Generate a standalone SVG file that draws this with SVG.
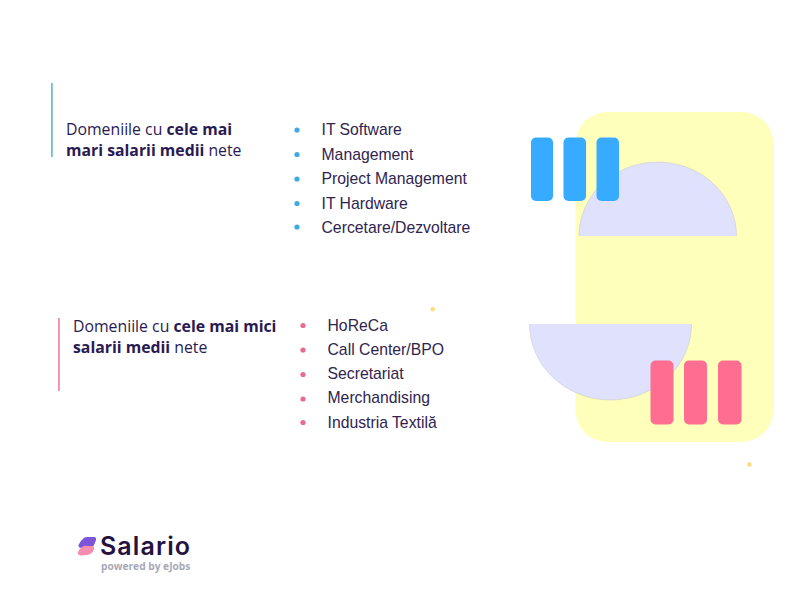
<svg xmlns="http://www.w3.org/2000/svg" width="800" height="598" viewBox="0 0 800 598">
<style>
.h{font-family:"Open Sans","Noto Sans",sans-serif;font-size:15.8px;fill:#2a1a52}
.h tspan{font-weight:700}
.l{font-family:"Liberation Sans",Arial,sans-serif;font-size:15.75px;fill:#2f2450}
.bb{fill:#3fa9e6}
.pb{fill:#ec6a8e}
.blue{fill:#36abff}
.pink{fill:#ff6e91}
.semi{fill:#dfe1fd}
.arc{fill:none;stroke:#c4c4c8;stroke-width:.5}
.dot{fill:#fddc7a}
</style>
<rect width="800" height="598" fill="#fff"/>
<g id="backdrop"><rect x="575.500" y="112" width="198" height="330" rx="32" fill="#feffbb"/></g>
<g id="semi-top"><path class="semi" d="M579 236A78.700 74 0 0 1 736.500 236Z"/><path class="arc" d="M579 236A78.700 74 0 0 1 736.500 236"/></g>
<g id="semi-bottom"><path class="semi" d="M529.500 324A81 76 0 0 0 691.500 324Z"/><path class="arc" d="M529.500 324A81 76 0 0 0 691.500 324"/></g>
<g id="bars-blue">
<rect class="blue" x="531" y="137.500" width="22" height="63.500" rx="5"/>
<rect class="blue" x="563.500" y="137.500" width="22.500" height="63.500" rx="5"/>
<rect class="blue" x="596.500" y="137.500" width="22.500" height="63.500" rx="5"/>
</g>
<g id="bars-pink">
<rect class="pink" x="650.500" y="360.500" width="23" height="64" rx="5"/>
<rect class="pink" x="684" y="360.500" width="23" height="64" rx="5"/>
<rect class="pink" x="718" y="360.500" width="23.500" height="64" rx="5"/>
</g>
<g id="dots"><circle class="dot" cx="432.700" cy="309.300" r="2.200"/><circle class="dot" cx="749.500" cy="464.500" r="2.200"/></g>
<g id="top-heading">
<rect x="51" y="83" width="1.800" height="74" fill="#6dbfd6"/>
<text class="h" x="66" y="135">Domeniile cu <tspan>cele mai</tspan></text>
<text class="h" x="66" y="156"><tspan>mari salarii medii</tspan> nete</text>
</g>
<g id="top-list">
<circle class="bb" cx="297" cy="130" r="2.600"/><text class="l" x="321.500" y="135">IT Software</text>
<circle class="bb" cx="297" cy="154.500" r="2.600"/><text class="l" x="321.500" y="160">Management</text>
<circle class="bb" cx="297" cy="179" r="2.600"/><text class="l" x="321.500" y="184">Project Management</text>
<circle class="bb" cx="297" cy="203.500" r="2.600"/><text class="l" x="321.500" y="208.500">IT Hardware</text>
<circle class="bb" cx="297" cy="227" r="2.600"/><text class="l" x="321.500" y="232.500">Cercetare/Dezvoltare</text>
</g>
<g id="bottom-heading">
<rect x="58" y="318" width="1.800" height="73" fill="#f08cab"/>
<text class="h" x="73" y="332">Domeniile cu <tspan>cele mai mici</tspan></text>
<text class="h" x="73" y="353"><tspan>salarii medii</tspan> nete</text>
</g>
<g id="bottom-list">
<circle class="pb" cx="303" cy="325.500" r="2.600"/><text class="l" x="327.500" y="330.500">HoReCa</text>
<circle class="pb" cx="303" cy="350" r="2.600"/><text class="l" x="327.500" y="355">Call Center/BPO</text>
<circle class="pb" cx="303" cy="374.500" r="2.600"/><text class="l" x="327.500" y="379">Secretariat</text>
<circle class="pb" cx="303" cy="399" r="2.600"/><text class="l" x="327.500" y="403">Merchandising</text>
<circle class="pb" cx="303" cy="422.500" r="2.600"/><text class="l" x="327.500" y="428">Industria Textilă</text>
</g>
<g id="logo">
<path d="M84 538Q85 537 87 537L94 537Q96.500 537 96 540L94.500 544Q93 548 89 548L82 548Q78 548 78.500 545Q80 541 84 538Z" fill="#7a55d8"/>
<path d="M82 547Q85 545 88 546L92 546Q94.500 546 94 549Q93 554 87 555L81 555.500Q77.500 555.500 78 552Q79 549 82 547Z" fill="#f58db0"/>
<text x="100" y="554.500" font-family="Inter,Roboto,sans-serif" font-size="25" font-weight="600" letter-spacing="1.100" fill="#24123f">Salario</text>
<text x="101" y="570" font-family="'Open Sans','Noto Sans',sans-serif" font-size="10.200" font-weight="700" fill="#a7a9b6">powered by eJobs</text>
</g>
</svg>
